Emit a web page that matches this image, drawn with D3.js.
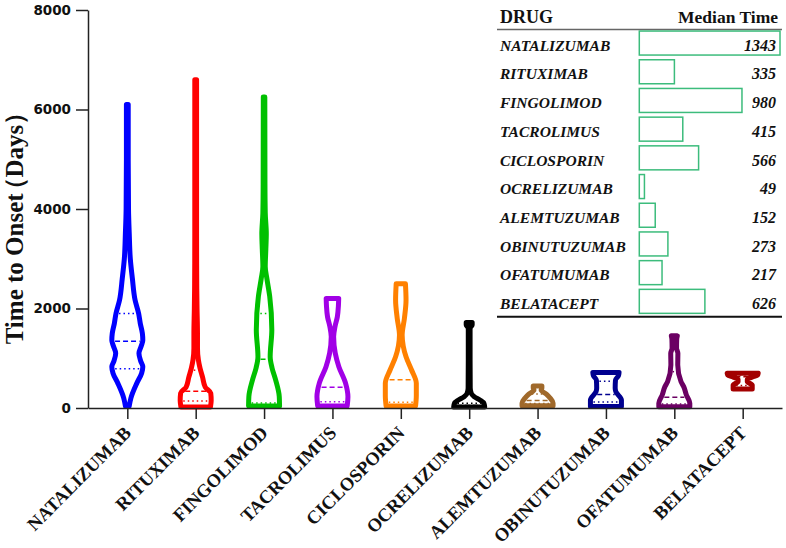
<!DOCTYPE html>
<html><head><meta charset="utf-8">
<script src="https://cdn.jsdelivr.net/npm/d3@7"></script>
<style>body{margin:0;background:#fff}svg{display:block}</style>
</head><body><svg id="c" width="786" height="548"></svg>
<script>
// ---------- data ----------
const drugs = ["NATALIZUMAB","RITUXIMAB","FINGOLIMOD","TACROLIMUS","CICLOSPORIN","OCRELIZUMAB","ALEMTUZUMAB","OBINUTUZUMAB","OFATUMUMAB","BELATACEPT"];
const medians = [1343,335,980,415,566,49,152,273,217,626];
const q1 = [790,140,100,127,115,30,90,120,80,450];
const q3 = [1900,760,1900,1660,1450,95,280,540,730,670];
const yTicks = [0,2000,4000,6000,8000];
const colors = ["#0000ff","#ff0000","#00c000","#a100e6","#ff8000","#000000","#a0692b","#00008f","#6b0063","#a30000"];

// violin density profiles: [days, relative density]
const densNatalizumab = [[30,0.08],[200,0.2],[500,0.6],[700,0.92],[830,1.0],[950,0.85],[1100,0.74],[1250,0.9],[1360,1.0],[1500,0.97],[1700,0.83],[1900,0.72],[2170,0.48],[2600,0.3],[3000,0.16],[3500,0.09],[4000,0.04],[5000,0.02],[6100,0.02]];
const densRituximab = [[20,0.95],[150,1.0],[300,0.97],[420,0.6],[620,0.42],[800,0.25],[965,0.14],[1200,0.08],[1500,0.08],[2000,0.05],[2500,0.03],[3500,0.02],[6600,0.02]];
const densFingolimod = [[40,1.0],[230,0.98],[560,0.74],[800,0.5],[1030,0.37],[1570,0.48],[2240,0.34],[2600,0.15],[2840,0.04],[3200,0.08],[3500,0.11],[3920,0.04],[4500,0.02],[6250,0.01]];
const densTacrolimus = [[40,0.95],[227,1.0],[500,0.84],[830,0.39],[1100,0.15],[1433,0.04],[1634,0.13],[1835,0.29],[2050,0.36],[2200,0.38]];
const densCiclosporin = [[40,0.95],[250,1.0],[495,1.0],[764,0.68],[1030,0.31],[1250,0.12],[1467,0.05],[1800,0.2],[2170,0.31],[2500,0.27]];
const densOcrelizumab = [[20,1.0],[94,0.95],[160,0.68],[227,0.3],[295,0.1],[400,0.03],[1000,0.02],[1600,0.02],[1670,0.16],[1720,0.16]];
const densAlemtuzumab = [[45,1.0],[100,1.0],[200,0.8],[280,0.55],[360,0.2],[400,0.25],[440,0.25]];
const densObinutuzumab = [[30,1.0],[160,1.0],[330,0.62],[400,0.58],[560,0.6],[650,0.8],[715,0.84]];
const densOfatumumab = [[25,1.0],[94,1.0],[261,0.77],[430,0.59],[530,0.41],[864,0.19],[1100,0.2],[1200,0.11],[1380,0.12],[1450,0.16]];
const densBelatacept = [[380,0.6],[460,0.6],[530,0.27],[580,0.27],[620,0.6],[660,0.95],[700,1.0]];
const densities = [densNatalizumab,densRituximab,densFingolimod,densTacrolimus,densCiclosporin,densOcrelizumab,densAlemtuzumab,densObinutuzumab,densOfatumumab,densBelatacept];

// ---------- chart ----------
const svg = d3.select("#c");
const y = d3.scaleLinear().domain([0,8000]).range([408,10]);
const x = d3.scalePoint().domain(drugs).range([88,782]).padding(0.575);
const halfW = d3.scaleLinear().domain([0,1]).range([0.6,15.5]);

drugs.forEach((name,i)=>{
  const dens = densities[i];
  const cx = x(name);
  const area = d3.area().curve(d3.curveMonotoneY)
    .y(d=>y(d[0])).x0(d=>cx-halfW(d[1])).x1(d=>cx+halfW(d[1]));
  const g = svg.append("g");
  g.append("path").attr("d",area(dens)).attr("fill","#fff")
    .attr("stroke",colors[i]).attr("stroke-width",5).attr("stroke-linejoin","round");
  const wAt = d3.scaleLinear().domain(dens.map(d=>d[0])).range(dens.map(d=>d[1])).clamp(true);
  [[q1[i],"1.5 3"],[medians[i],"5 3"],[q3[i],"1.5 3"]].forEach(([v,dash])=>{
    const w = halfW(wAt(v)) - 3;
    if (w <= 1) return;
    g.append("line").attr("x1",cx-w).attr("x2",cx+w).attr("y1",y(v)).attr("y2",y(v))
      .attr("stroke",colors[i]).attr("stroke-width",1.5).attr("stroke-dasharray",dash);
  });
});

// axes
const yAxis = svg.append("g").attr("transform","translate(88,0)")
  .call(d3.axisLeft(y).tickValues(yTicks).tickSize(12).tickSizeOuter(0).tickPadding(5).tickFormat(d3.format("d")));
yAxis.selectAll("text").attr("font-family","DejaVu Sans").attr("font-weight","bold").attr("font-size",13.5).attr("fill","#111");
const xAxis = svg.append("g").attr("transform","translate(0,408)")
  .call(d3.axisBottom(x).tickSize(11).tickSizeOuter(0));
xAxis.selectAll("text").remove();
svg.selectAll(".domain, .tick line").attr("stroke","#222").attr("stroke-width",1.5);

// x labels
svg.append("g").selectAll("text").data(drugs).join("text")
  .attr("transform",d=>`translate(${x(d)+5},434) rotate(-45)`)
  .attr("text-anchor","end")
  .attr("font-family","Liberation Serif").attr("font-weight","bold").attr("font-size",18.5).attr("fill","#111")
  .text(d=>d);

// y title
const title = svg.append("text").attr("transform","translate(23,222) rotate(-90)")
  .attr("text-anchor","middle").attr("font-family","Liberation Serif").attr("font-weight","bold")
  .attr("font-size",25).attr("fill","#111");
title.append("tspan").text("Time to Onset");
title.append("tspan").attr("dx",-9).text("（");
title.append("tspan").text("Days）");

// ---------- table ----------
const rowY = d3.scaleBand().domain(drugs).range([28.7,315.7]);
const barX = d3.scaleLinear().domain([0,d3.max(medians)]).range([639.3,780]);
const tbl = svg.append("g");
tbl.append("text").attr("x",500).attr("y",23).attr("font-family","Liberation Serif").attr("font-weight","bold").attr("font-size",18).attr("fill","#111").text("DRUG");
tbl.append("text").attr("x",778).attr("y",23).attr("text-anchor","end").attr("font-family","Liberation Serif").attr("font-weight","bold").attr("font-size",17.5).attr("fill","#111").text("Median Time");
tbl.append("line").attr("x1",497).attr("x2",782).attr("y1",29.5).attr("y2",29.5).attr("stroke","#666").attr("stroke-width",1.5);
tbl.append("line").attr("x1",497).attr("x2",782).attr("y1",316.7).attr("y2",316.7).attr("stroke","#111").attr("stroke-width",2);
drugs.forEach((d,i)=>{
  const cy = rowY(d) + rowY.bandwidth()/2;
  tbl.append("rect").attr("x",barX(0)).attr("y",cy-12).attr("width",barX(medians[i])-barX(0)).attr("height",24)
    .attr("fill","#fff").attr("stroke","#3cbc7c").attr("stroke-width",1.5);
  tbl.append("text").attr("x",500).attr("y",cy+7.7).attr("font-family","Liberation Serif").attr("font-weight","bold").attr("font-style","italic").attr("font-size",15.5).attr("fill","#111").text(d);
  tbl.append("text").attr("x",776).attr("y",cy+7.7).attr("text-anchor","end").attr("font-family","Liberation Serif").attr("font-weight","bold").attr("font-style","italic").attr("font-size",16).attr("fill","#111").text(medians[i]);
});
</script>
</body></html>
